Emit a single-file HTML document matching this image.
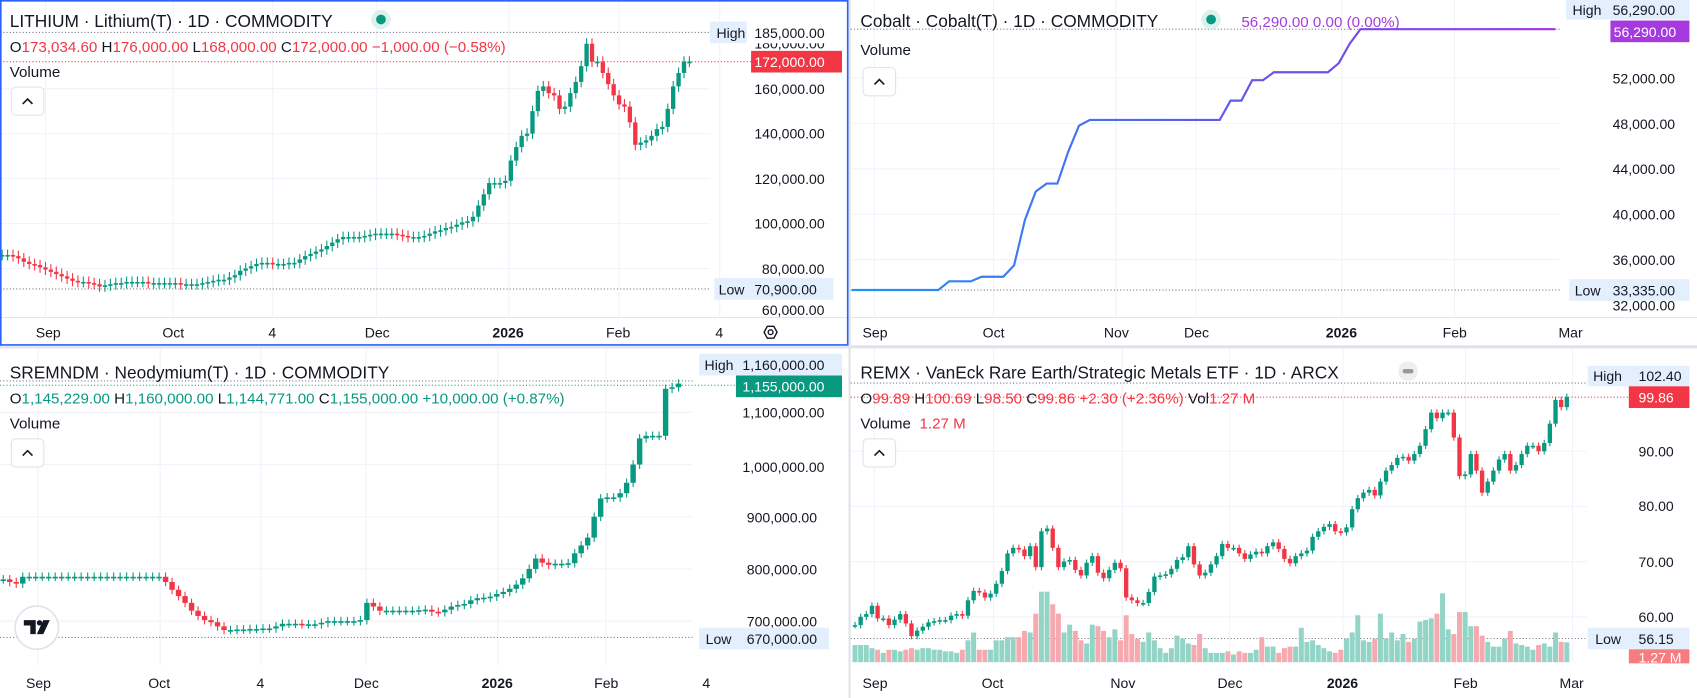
<!DOCTYPE html>
<html><head><meta charset="utf-8"><style>
html,body{margin:0;padding:0;background:#fff;}
svg{display:block;font-family:"Liberation Sans",sans-serif;}
.ax{font-size:13px;fill:#131722;}
.t{font-size:16px;fill:#131722;}
.l{font-size:14px;fill:#131722;}
</style></head><body>
<svg id="chart" width="1697" height="698" viewBox="0 0 1568 645" preserveAspectRatio="none" xmlns="http://www.w3.org/2000/svg">
<defs>
<clipPath id="cTL"><rect x="0" y="0" width="656" height="293"/></clipPath>
<clipPath id="cTR"><rect x="786" y="0" width="655" height="293"/></clipPath>
<clipPath id="cBL"><rect x="0" y="322" width="640" height="293"/></clipPath>
<clipPath id="cBR"><rect x="786" y="322" width="680" height="290"/></clipPath>
<linearGradient id="cobGrad" x1="0" x2="1" y1="0" y2="0"><stop offset="0" stop-color="#2196f3"/><stop offset="0.5" stop-color="#5b5cf0"/><stop offset="1" stop-color="#a030e8"/></linearGradient>
</defs>
<rect x="784" y="0" width="2" height="645" fill="#e0e3eb"/>
<rect x="786" y="319" width="782" height="3" fill="#e0e3eb"/>
<rect x="0" y="320" width="784" height="2" fill="#e0e3eb"/>
<g id="grids"></g>
<line x1="0" y1="30" x2="656" y2="30" stroke="#787b86" stroke-dasharray="1,2"/>
<line x1="0" y1="267" x2="656" y2="267" stroke="#787b86" stroke-dasharray="1,2"/>
<line x1="0" y1="57" x2="694" y2="57" stroke="#f23645" stroke-dasharray="1,2"/>
<line x1="786" y1="27" x2="1441" y2="27" stroke="#787b86" stroke-dasharray="1,2"/>
<line x1="786" y1="268" x2="1441" y2="268" stroke="#787b86" stroke-dasharray="1,2"/>
<line x1="0" y1="352" x2="640" y2="352" stroke="#787b86" stroke-dasharray="1,2"/>
<line x1="0" y1="356" x2="680" y2="356" stroke="#089981" stroke-dasharray="1,2"/>
<line x1="0" y1="589" x2="640" y2="589" stroke="#787b86" stroke-dasharray="1,2"/>
<line x1="786" y1="354" x2="1466" y2="354" stroke="#787b86" stroke-dasharray="1,2"/>
<line x1="786" y1="367" x2="1505" y2="367" stroke="#f23645" stroke-dasharray="1,2"/>
<line x1="786" y1="590" x2="1466" y2="590" stroke="#787b86" stroke-dasharray="1,2"/>
<g id="marks"></g>

<text class="t" x="9" y="25">LITHIUM · Lithium(T) · 1D · COMMODITY</text>
<circle cx="352" cy="18" r="9" fill="#daf1ec"/><circle cx="352" cy="18" r="4.5" fill="#089981"/>
<text class="l" x="9" y="48">O<tspan fill="#f23645">173,034.60</tspan> H<tspan fill="#f23645">176,000.00</tspan> L<tspan fill="#f23645">168,000.00</tspan> C<tspan fill="#f23645">172,000.00</tspan> <tspan fill="#f23645">−1,000.00 (−0.58%)</tspan></text>
<text class="l" x="9" y="71">Volume</text>
<g><rect x="10.5" y="80.5" width="30" height="26" rx="4" fill="#fff" stroke="#e0e3eb"/><path d="M21 96 l4.5 -4.5 l4.5 4.5" fill="none" stroke="#131722" stroke-width="1.5"/></g>
<text class="ax" x="697" y="87">160,000.00</text>
<text class="ax" x="697" y="128">140,000.00</text>
<text class="ax" x="697" y="170">120,000.00</text>
<text class="ax" x="697" y="211">100,000.00</text>
<text class="ax" x="704" y="253">80,000.00</text>
<text class="ax" x="704" y="291">60,000.00</text>
<text class="ax" x="697" y="45">180,000.00</text>
<g><rect x="656" y="20" width="34" height="20" fill="#e3effd"/><text class="ax" x="662" y="35">High</text><rect x="690" y="20" width="90" height="20" fill="#fff"/><text class="ax" x="697" y="35">185,000.00</text></g>
<g><rect x="694" y="47" width="84" height="20" fill="#f23645"/><text class="ax" x="697" y="62" style="fill:#fff">172,000.00</text></g>
<g><rect x="660" y="257" width="30" height="20" fill="#e3effd"/><text class="ax" x="664" y="272">Low</text><rect x="690" y="257" width="80" height="20" fill="#e3effd"/><text class="ax" x="697" y="272">70,900.00</text></g>
<line x1="0" y1="293.5" x2="784" y2="293.5" stroke="#e0e3eb"/>
<text class="ax" x="33" y="312">Sep</text>
<text class="ax" x="150" y="312">Oct</text>
<text class="ax" x="248" y="312">4</text>
<text class="ax" x="337" y="312">Dec</text>
<text class="ax" x="455" y="312" font-weight="bold">2026</text>
<text class="ax" x="560" y="312">Feb</text>
<text class="ax" x="661" y="312">4</text>
<g><path d="M706 307 l3 -5.5 h6 l3 5.5 l-3 5.5 h-6 z" fill="none" stroke="#131722" stroke-width="1.3"/><circle cx="712" cy="307" r="2.2" fill="none" stroke="#131722" stroke-width="1.3"/></g>
<rect x="0.75" y="0.75" width="782.5" height="318" fill="none" stroke="#2962ff" stroke-width="1.5"/>

<text class="t" x="795" y="25">Cobalt · Cobalt(T) · 1D · COMMODITY</text>
<circle cx="1119" cy="18" r="9" fill="#daf1ec"/><circle cx="1119" cy="18" r="4.5" fill="#089981"/>
<text class="l" x="1147" y="25" style="fill:#a53bdf">56,290.00  0.00 (0.00%)</text>
<text class="l" x="795" y="51">Volume</text>
<g><rect x="797.5" y="62.5" width="30" height="26" rx="4" fill="#fff" stroke="#e0e3eb"/><path d="M808 78 l4.5 -4.5 l4.5 4.5" fill="none" stroke="#131722" stroke-width="1.5"/></g>
<text class="ax" x="1490" y="77">52,000.00</text>
<text class="ax" x="1490" y="119">48,000.00</text>
<text class="ax" x="1490" y="161">44,000.00</text>
<text class="ax" x="1490" y="203">40,000.00</text>
<text class="ax" x="1490" y="245">36,000.00</text>
<text class="ax" x="1490" y="287">32,000.00</text>
<g><rect x="1447" y="0" width="38" height="18" fill="#e3effd"/><text class="ax" x="1453" y="14">High</text><rect x="1485" y="0" width="76" height="18" fill="#e3effd"/><text class="ax" x="1490" y="14">56,290.00</text></g>
<g><rect x="1488" y="19" width="73" height="20" fill="#a53bdf"/><text class="ax" x="1491" y="34" style="fill:#fff">56,290.00</text></g>
<g><rect x="1450" y="258" width="35" height="20" fill="#e3effd"/><text class="ax" x="1455" y="273">Low</text><rect x="1485" y="258" width="76" height="20" fill="#e3effd"/><text class="ax" x="1490" y="273">33,335.00</text></g>
<line x1="786" y1="293.5" x2="1568" y2="293.5" stroke="#e0e3eb"/>
<text class="ax" x="797" y="312">Sep</text>
<text class="ax" x="908" y="312">Oct</text>
<text class="ax" x="1020" y="312">Nov</text>
<text class="ax" x="1094" y="312">Dec</text>
<text class="ax" x="1225" y="312" font-weight="bold">2026</text>
<text class="ax" x="1333" y="312">Feb</text>
<text class="ax" x="1440" y="312">Mar</text>

<text class="t" x="9" y="350">SREMNDM · Neodymium(T) · 1D · COMMODITY</text>
<text class="l" x="9" y="373">O<tspan fill="#089981">1,145,229.00</tspan> H<tspan fill="#089981">1,160,000.00</tspan> L<tspan fill="#089981">1,144,771.00</tspan> C<tspan fill="#089981">1,155,000.00</tspan> <tspan fill="#089981">+10,000.00 (+0.87%)</tspan></text>
<text class="l" x="9" y="396">Volume</text>
<g><rect x="10.5" y="405.5" width="30" height="26" rx="4" fill="#fff" stroke="#e0e3eb"/><path d="M21 421 l4.5 -4.5 l4.5 4.5" fill="none" stroke="#131722" stroke-width="1.5"/></g>
<text class="ax" x="686" y="386">1,100,000.00</text>
<text class="ax" x="686" y="436">1,000,000.00</text>
<text class="ax" x="690" y="483">900,000.00</text>
<text class="ax" x="690" y="531">800,000.00</text>
<text class="ax" x="690" y="579">700,000.00</text>
<g><rect x="646" y="327" width="34" height="20" fill="#e3effd"/><text class="ax" x="651" y="342">High</text><rect x="680" y="327" width="98" height="20" fill="#e3effd"/><text class="ax" x="686" y="342">1,160,000.00</text></g>
<g><rect x="680" y="347" width="98" height="20" fill="#089981"/><text class="ax" x="686" y="362" style="fill:#fff">1,155,000.00</text></g>
<g><rect x="646" y="580" width="34" height="20" fill="#e3effd"/><text class="ax" x="652" y="595">Low</text><rect x="680" y="580" width="86" height="20" fill="#e3effd"/><text class="ax" x="690" y="595">670,000.00</text></g>
<text class="ax" x="24" y="636">Sep</text>
<text class="ax" x="137" y="636">Oct</text>
<text class="ax" x="237" y="636">4</text>
<text class="ax" x="327" y="636">Dec</text>
<text class="ax" x="445" y="636" font-weight="bold">2026</text>
<text class="ax" x="549" y="636">Feb</text>
<text class="ax" x="649" y="636">4</text>
<g><circle cx="34" cy="580" r="20" fill="#fff" stroke="#e0e3eb" stroke-width="1.5"/><path d="M22 573 h11 v13 h-5 v-8 h-6 z M34 586 l6 -13 h6 l-6 13 z" fill="#131722"/><circle cx="36.5" cy="575.5" r="2.5" fill="#131722"/></g>

<text class="t" x="795" y="350">REMX · VanEck Rare Earth/Strategic Metals ETF · 1D · ARCX</text>
<circle cx="1301" cy="343" r="9" fill="#eeeeee"/><rect x="1296" y="341" width="10" height="4" rx="2" fill="#9598a1"/>
<text class="l" x="795" y="373">O<tspan fill="#f23645">99.89</tspan> H<tspan fill="#f23645">100.69</tspan> L<tspan fill="#f23645">98.50</tspan> C<tspan fill="#f23645">99.86</tspan> <tspan fill="#f23645">+2.30 (+2.36%)</tspan> Vol<tspan fill="#f23645">1.27 M</tspan></text>
<text class="l" x="795" y="396">Volume <tspan fill="#f23645" dx="4">1.27 M</tspan></text>
<g><rect x="797.5" y="405.5" width="30" height="26" rx="4" fill="#fff" stroke="#e0e3eb"/><path d="M808 421 l4.5 -4.5 l4.5 4.5" fill="none" stroke="#131722" stroke-width="1.5"/></g>
<text class="ax" x="1514" y="422">90.00</text>
<text class="ax" x="1514" y="472">80.00</text>
<text class="ax" x="1514" y="524">70.00</text>
<text class="ax" x="1514" y="575">60.00</text>
<g><rect x="1467" y="338" width="38" height="19" fill="#e3effd"/><text class="ax" x="1472" y="352">High</text><rect x="1505" y="338" width="56" height="19" fill="#e3effd"/><text class="ax" x="1514" y="352">102.40</text></g>
<g><rect x="1505" y="357" width="56" height="20" fill="#f23645"/><text class="ax" x="1514" y="372" style="fill:#fff">99.86</text></g>
<g><rect x="1467" y="580" width="38" height="20" fill="#e3effd"/><text class="ax" x="1474" y="595">Low</text><rect x="1505" y="580" width="56" height="20" fill="#e3effd"/><text class="ax" x="1514" y="595">56.15</text></g>
<g><rect x="1505" y="600" width="56" height="13" fill="#f77c80"/><text class="ax" x="1514" y="612" style="fill:#fff">1.27 M</text></g>
<text class="ax" x="797" y="636">Sep</text>
<text class="ax" x="907" y="636">Oct</text>
<text class="ax" x="1026" y="636">Nov</text>
<text class="ax" x="1125" y="636">Dec</text>
<text class="ax" x="1226" y="636" font-weight="bold">2026</text>
<text class="ax" x="1343" y="636">Feb</text>
<text class="ax" x="1441" y="636">Mar</text>
</svg>
<script>
const lithiumCloses=[86000,86000,85500,84500,83000,82000,81500,80500,79500,78500,77500,76500,75500,74500,74000,74000,73500,73000,72000,72500,73000,73500,73500,74000,74000,74000,74000,73500,73500,73500,73500,73500,73500,73000,73000,73000,73000,73500,74000,74500,75000,75000,76000,77000,79000,80000,81000,82000,82500,82500,82000,82000,82000,82500,82500,84000,85500,86500,87500,88500,90000,91500,93000,94000,94000,94000,94000,94500,95000,95500,95500,95500,95500,95000,94500,94000,94000,94000,94500,95500,96500,97000,98000,98500,99500,100500,101000,103000,108000,113000,118000,118000,118000,119000,128000,134000,139000,140000,150000,159000,161000,158000,157000,151000,152000,158000,163000,170000,180000,172000,172000,167000,162000,157000,153000,152000,145000,135000,136000,137000,139000,142000,143000,151000,161000,167000,172000,172000];
const lithiumTicks=[160000,140000,120000,100000,80000];
const lithiumTimeX=[42,160,252,348,470,572,665];

const cobaltValues=[33335,33335,33335,33335,33335,33335,33335,33335,33335,34100,34100,34100,34500,34500,34500,35500,39500,42000,42700,42700,45500,47800,48300,48300,48300,48300,48300,48300,48300,48300,48300,48300,48300,48300,48300,50000,50000,51800,51800,52500,52500,52500,52500,52500,52500,53300,55000,56290,56290,56290,56290,56290,56290,56290,56290,56290,56290,56290,56290,56290,56290,56290,56290,56290,56290,56290];
const cobaltTicks=[52000,48000,44000,40000,36000];
const cobaltTimeX=[808,918,1031,1105,1240,1344];

const neoCloses=[780000,775000,772000,785000,785000,785000,785000,785000,785000,785000,785000,785000,785000,785000,785000,785000,785000,785000,785000,785000,785000,785000,785000,785000,785000,775000,760000,748000,735000,720000,710000,702000,698000,690000,683000,683000,684000,684000,685000,685000,686000,686000,690000,695000,695000,695000,694000,694000,694000,697000,700000,700000,700000,700000,700000,702000,735000,728000,720000,720000,720000,720000,720000,720000,721000,722000,718000,717000,722000,728000,731000,733000,740000,744000,745000,747000,752000,756000,762000,770000,782000,800000,820000,812000,808000,810000,810000,811000,830000,845000,860000,900000,935000,937000,937000,945000,965000,1000000,1050000,1055000,1055000,1055000,1145000,1148000,1155000];
const neoTicks=[1100000,1000000,900000,800000,700000];
const neoTimeX=[35,148,241,338,460,560];

const remxCloses=[58.5,60,60.5,62,59.7,59.7,58.5,59.5,60.5,58.8,56.5,57.5,58.2,59,59.2,59.4,59.4,60.2,60.5,60.2,63,64.7,64.4,63.5,64.2,66,68.3,71.5,72.5,72.2,71,72.8,69,75.5,76,72.5,69,70,70.3,68.5,67.5,69.8,71,68,67,68.5,69.8,68.8,63.5,63,62.5,62.5,64.5,67.3,67.5,67.7,68.7,70.3,70.8,72.8,69.5,67.5,68,69.5,71,73.2,72.5,72.5,71.5,70.5,71.3,71.8,71.5,72.8,73.5,72.3,70.5,69.7,71,71.5,72,74.5,75.5,76.3,76.8,75.5,75.3,76.2,79.5,81.5,82.5,83,82,84.5,86.5,87.5,88.8,89,88.3,89.5,91,94,97,96,97,97,92.5,85.5,85.8,89.5,86.5,82.5,84.5,86.5,88.5,89.5,86.5,87.5,89.5,91,91,90,91.5,95,99.3,98,99.86];
const remxVolumes=[1.1,1.1,1.1,0.9,0.8,0.6,0.8,0.8,0.7,0.8,0.9,0.8,0.9,0.9,0.8,0.8,0.7,0.7,0.6,0.8,1.4,1.9,0.8,0.8,0.8,1.4,1.4,1.6,1.6,1.6,2.0,1.9,3.1,4.5,4.5,3.7,3.1,1.9,2.4,2.0,1.4,1.2,2.4,2.3,2.0,1.6,2.1,1.4,3.0,1.8,1.5,1.3,1.9,1.4,0.9,0.6,0.9,1.7,1.5,1.2,1.1,1.8,0.9,0.6,0.6,0.6,0.7,0.5,0.7,0.6,0.6,0.8,1.6,1.0,1.0,0.6,0.9,1.0,1.0,2.2,1.3,1.4,1.1,0.9,0.7,0.6,0.8,1.5,1.9,3.0,1.4,1.3,1.5,3.1,1.5,1.9,1.4,1.8,1.3,1.5,2.6,2.7,2.8,3.1,4.4,2.1,1.8,3.2,3.2,2.3,2.3,1.7,1.3,1.0,1.0,1.5,2.0,1.2,1.1,1.0,0.8,1.1,1.2,1.0,1.9,1.3,1.27];
const remxTicks=[90,80,70,60];
const remxTimeX=[808,918,1037,1136,1241,1354,1453];

const xL=i=>2+5*i, yL=p=>30+(185000-p)*0.002077;
const xC=i=>787+10*i, yC=p=>72+(52000-p)*0.0105;
const xN=i=>3+6*i, yN=p=>574-(p-700000)*0.0004825;
const xR=i=>790+5.22*i, yR=p=>417-(p-90)*5.1, yV=v=>612-v*14.5;

const NS='http://www.w3.org/2000/svg';
const G='#089981', R='#f23645';
const grids=document.getElementById('grids'), marks=document.getElementById('marks');
function el(tag,parent){const e=document.createElementNS(NS,tag);parent.appendChild(e);return e;}

function gridPanel(ticks,yf,timeX,x0,x1,y0,y1,name){
  ticks.forEach(t=>{const l=el('line',grids);
    
    
    l.setAttribute('x1',x0);l.setAttribute('x2',x1);l.setAttribute('y1',yf(t));l.setAttribute('y2',yf(t));l.setAttribute('stroke','#f0f3fa');});
  timeX.forEach(x=>{const l=el('line',grids);
    
    
    l.setAttribute('x1',x);l.setAttribute('x2',x);l.setAttribute('y1',y0);l.setAttribute('y2',y1);l.setAttribute('stroke','#f0f3fa');});
}
gridPanel(lithiumTicks,yL,lithiumTimeX,0,656,0,293,'lithium');
gridPanel(cobaltTicks,yC,cobaltTimeX,786,1441,0,293,'cobalt');
gridPanel(neoTicks,yN,neoTimeX,0,640,322,615,'neodymium');
gridPanel(remxTicks,yR,remxTimeX,786,1466,322,612,'remx');

function candles(closes,xf,yf,w,wick,clip,name){
  const g=el('g',marks);g.setAttribute('clip-path','url(#'+clip+')');
  
  
  closes.forEach((c,i)=>{
    const o=i>0?closes[i-1]:c;
    const col=c<o?R:G;
    const x=xf(i), yo=yf(o), yc=yf(c);
    const top=Math.min(yo,yc), bot=Math.max(yo,yc);
    const ln=el('line',g);
    
    
    ln.setAttribute('x1',x);ln.setAttribute('x2',x);ln.setAttribute('y1',top-wick);ln.setAttribute('y2',bot+wick);ln.setAttribute('stroke',col);ln.setAttribute('stroke-width',1);
    const r=el('rect',g);
    
    
    r.setAttribute('x',x-w/2);r.setAttribute('y',top);r.setAttribute('width',w);r.setAttribute('height',Math.max(1.5,bot-top));r.setAttribute('fill',col);
  });
}
candles(lithiumCloses,xL,yL,4,5,'cTL','lithium');
candles(neoCloses,xN,yN,5,4,'cBL','neodymium');

(function(){
  const g=el('g',marks);g.setAttribute('clip-path','url(#cBR)');
  
  
  remxVolumes.forEach((v,i)=>{
    const c=remxCloses[i], o=i>0?remxCloses[i-1]:c;
    const r=el('rect',g);
    
    
    r.setAttribute('x',xR(i)-2.3);r.setAttribute('y',yV(v));r.setAttribute('width',4.6);r.setAttribute('height',612-yV(v));
    r.setAttribute('fill',c<o?'#f7a9b0':'#92d5c6');
  });
})();
candles(remxCloses,xR,yR,4,3,'cBR','remx');

(function(){
  const p=el('path',marks);
  
  
  p.setAttribute('d',cobaltValues.map((v,i)=>(i?'L':'M')+xC(i)+' '+yC(v)).join(' '));
  p.setAttribute('fill','none');p.setAttribute('stroke','url(#cobGrad)');p.setAttribute('stroke-width',2);
  p.setAttribute('clip-path','url(#cTR)');
})();
</script>
</body></html>
